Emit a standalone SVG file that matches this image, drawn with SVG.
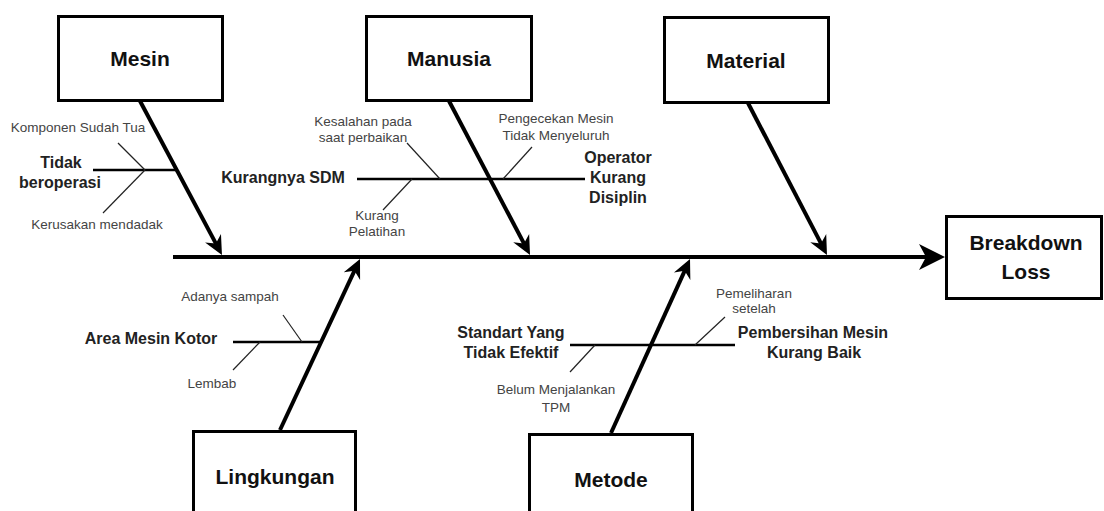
<svg xmlns="http://www.w3.org/2000/svg" width="1104" height="511" viewBox="0 0 1104 511">
<style>
.box{fill:#fff;stroke:#000;stroke-width:3}
.title{font-family:"Liberation Sans",Arial,sans-serif;font-weight:bold;font-size:21px;fill:#111;text-anchor:middle}
.cause{font-family:"Liberation Sans",Arial,sans-serif;font-weight:bold;font-size:16px;fill:#222;text-anchor:middle}
.sub{font-family:"Liberation Sans",Arial,sans-serif;font-size:13.5px;fill:#444;text-anchor:middle}
.bone{stroke:#000;stroke-width:4;fill:none}
.br{stroke:#000;stroke-width:2.5;fill:none}
.tw{stroke:#222;stroke-width:1.2;fill:none}
</style>
<defs>
<marker id="big" markerUnits="userSpaceOnUse" viewBox="-40 -20 50 40" markerWidth="50" markerHeight="40" refX="-12" refY="0" orient="auto">
<path d="M0,0 L-26,-13 L-19,0 L-26,13 Z" fill="#000"/>
</marker>
<marker id="sm" markerUnits="userSpaceOnUse" viewBox="-30 -15 40 30" markerWidth="40" markerHeight="30" refX="-8" refY="0" orient="auto">
<path d="M0,0 L-19,-9 L-13,0 L-19,9 Z" fill="#000"/>
</marker>
</defs>

<g id="connectors">
<line class="bone" x1="173" y1="257" x2="933" y2="257" marker-end="url(#big)"/>
<line class="bone" x1="140" y1="101" x2="218.2" y2="247.9" marker-end="url(#sm)"/>
<line class="bone" x1="449" y1="101" x2="526.3" y2="247.9" marker-end="url(#sm)"/>
<line class="bone" x1="748" y1="103" x2="823.3" y2="247.9" marker-end="url(#sm)"/>
<line class="bone" x1="280" y1="430" x2="356.6" y2="266.2" marker-end="url(#sm)"/>
<line class="bone" x1="611" y1="433" x2="686.7" y2="266.3" marker-end="url(#sm)"/>
</g>

<g id="mesin">
<rect class="box" x="58.5" y="16.5" width="164" height="84"/>
<text class="title" x="140" y="66">Mesin</text>
<line class="br" x1="93" y1="170" x2="177" y2="170"/>
<line class="tw" x1="118" y1="143" x2="145" y2="170"/>
<line class="tw" x1="145" y1="170" x2="103" y2="213"/>
<text class="cause" x="61" y="168">Tidak</text>
<text class="cause" x="60" y="188">beroperasi</text>
<text class="sub" x="78" y="132">Komponen Sudah Tua</text>
<text class="sub" x="97" y="229">Kerusakan mendadak</text>
</g>

<g id="manusia">
<rect class="box" x="366.5" y="16.5" width="165" height="84"/>
<text class="title" x="449" y="66">Manusia</text>
<line class="br" x1="357" y1="179" x2="585" y2="179"/>
<line class="tw" x1="407" y1="143" x2="440" y2="179"/>
<line class="tw" x1="412" y1="179" x2="383" y2="210"/>
<line class="tw" x1="532" y1="147" x2="503" y2="179"/>
<text class="cause" x="283" y="183">Kurangnya SDM</text>
<text class="cause" x="618" y="163">Operator</text>
<text class="cause" x="618" y="183">Kurang</text>
<text class="cause" x="618" y="203">Disiplin</text>
<text class="sub" x="363" y="126">Kesalahan pada</text>
<text class="sub" x="363" y="142">saat perbaikan</text>
<text class="sub" x="377" y="220">Kurang</text>
<text class="sub" x="377" y="236">Pelatihan</text>
<text class="sub" x="556" y="123">Pengecekan Mesin</text>
<text class="sub" x="556" y="140">Tidak Menyeluruh</text>
</g>

<g id="material">
<rect class="box" x="664.5" y="17.5" width="164" height="85"/>
<text class="title" x="746" y="68">Material</text>
</g>

<g id="lingkungan">
<rect class="box" x="193.5" y="431.5" width="162" height="90"/>
<text class="title" x="275" y="484">Lingkungan</text>
<line class="br" x1="233" y1="342" x2="321" y2="342"/>
<line class="tw" x1="283" y1="315" x2="302" y2="342"/>
<line class="tw" x1="260" y1="342" x2="233" y2="370"/>
<text class="cause" x="151" y="344">Area Mesin Kotor</text>
<text class="sub" x="230" y="301">Adanya sampah</text>
<text class="sub" x="212" y="388">Lembab</text>
</g>

<g id="metode">
<rect class="box" x="529.5" y="434.5" width="163" height="90"/>
<text class="title" x="611" y="487">Metode</text>
<line class="br" x1="570" y1="345" x2="735" y2="345"/>
<line class="tw" x1="725" y1="317" x2="695" y2="345"/>
<line class="tw" x1="595" y1="345" x2="570" y2="372"/>
<text class="cause" x="511" y="338">Standart Yang</text>
<text class="cause" x="511" y="358">Tidak Efektif</text>
<text class="cause" x="813" y="338">Pembersihan Mesin</text>
<text class="cause" x="814" y="358">Kurang Baik</text>
<text class="sub" x="754" y="298">Pemeliharan</text>
<text class="sub" x="754" y="313">setelah</text>
<text class="sub" x="556" y="394">Belum Menjalankan</text>
<text class="sub" x="556" y="412">TPM</text>
</g>

<g id="breakdown">
<rect class="box" x="946.5" y="216.5" width="155" height="82"/>
<text class="title" x="1026" y="250">Breakdown</text>
<text class="title" x="1026" y="279">Loss</text>
</g>
</svg>
